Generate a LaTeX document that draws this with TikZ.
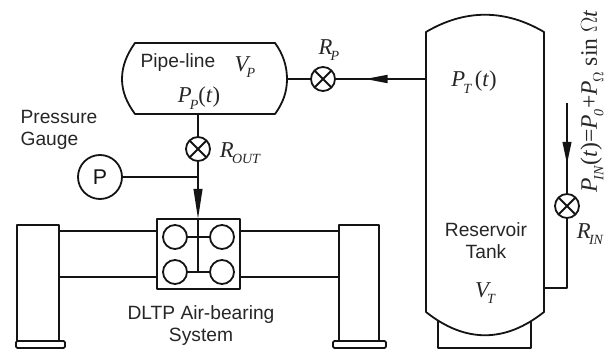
\documentclass[tikz,border=0pt]{standalone}
\usepackage{fontspec}
\setmainfont{Liberation Sans}
\newfontfamily\tms{Liberation Serif}
\usetikzlibrary{arrows.meta,calc}
\newcommand{\sym}[2]{{\tms\itshape #1\kern-0.08em\raisebox{-0.28em}{\fontsize{10.5}{11}\selectfont #2}}}
\tikzset{
  ln/.style={line width=1.35pt,line join=round,color=black!92},
  lbl/.style={font=\fontsize{14.4}{16.5}\selectfont,align=center,inner sep=0pt,text=black!85},
  mlbl/.style={font=\fontsize{17}{18}\selectfont,inner sep=0pt,text=black!85},
  valve/.style={circle,draw,ln,minimum size=18pt,inner sep=0pt,path picture={
    \draw[ln] (path picture bounding box.north west)--(path picture bounding box.south east)
      (path picture bounding box.north east)--(path picture bounding box.south west);}},
  disc/.style={circle,draw,ln,minimum size=18pt,inner sep=0pt}
}
\begin{document}
\begin{tikzpicture}[x=0.75pt,y=-0.75pt]
\useasboundingbox (0,0) rectangle (607,352);
% pipe-line vessel
\draw[ln] (135,43) -- (275,43) .. controls (283,54) and (287,66) .. (287,79) .. controls (287,92) and (283,103) .. (275,114) -- (135,114) .. controls (127,103) and (122,92) .. (122,79) .. controls (122,66) and (127,54) .. (135,43) -- cycle;
\coordinate (pipeR) at (287,79);
\coordinate (pipeB) at (198,114);
% tank
\draw[ln] (426,32) .. controls (465,9) and (505,9) .. (544,32) -- (544,312) .. controls (505,343) and (465,343) .. (426,312) -- cycle;
\coordinate (tankL) at (426,79);
\coordinate (tankR) at (544,288);
\draw[ln] (438,321) -- (438,348) -- (531,348) -- (531,321);
% valves
\node[valve] (rp) at (323,79) {};
\node[valve] (rout) at (198,149) {};
\node[valve] (rin) at (567,206) {};
% gauge
\node[circle,draw,ln,minimum size=33pt,inner sep=0pt,font=\fontsize{16}{18}\selectfont] (gauge) at (100,177) {P};
% bearing box
\node[draw,ln,minimum width=62.25pt,minimum height=52.5pt,inner sep=0pt] (box) at (198.5,254) {};
\node[disc] (c1) at (175,237) {};
\node[disc] (c2) at (222,237) {};
\node[disc] (c3) at (175,272) {};
\node[disc] (c4) at (222,272) {};
\coordinate (j) at (198,177);
\coordinate (boxT) at (198,219);
\coordinate (m2) at (198,272);
\draw[ln] (c1) -- (c2);
\draw[ln] (c3) -- (c4);
\draw[ln] (boxT) -- (m2);
% connectors
\draw[ln] (pipeR) -- (rp);
\draw[ln] (tankL) -- (rp);
\draw[ln,-{Triangle[length=17pt,width=6pt]}] (tankL) -- (365,79);
\draw[ln] (pipeB) -- (rout);
\draw[ln] (rout) -- (j);
\draw[ln] (gauge) -- (j);
\draw[ln,-{Triangle[length=22.5pt,width=6.5pt]}] (j) -- (boxT);
\coordinate (inT) at (567,103);
\coordinate (inC) at (567,288);
\draw[ln,-{Triangle[length=16.5pt,width=6.5pt]}] (inT) -- (567,164);
\draw[ln] (inT) -- (rin);
\draw[ln] (rin) -- (inC) -- (tankR);
% supports
\draw[ln] (59,341) -- (59,225) -- (17,225) -- (17,341);
\draw[ln] (379,341) -- (379,225) -- (339,225) -- (339,341);
\draw[ln,rounded corners=1pt] (16,341) rectangle (65,348);
\draw[ln,rounded corners=1pt] (333,341) rectangle (386,348);
\coordinate (lA) at (59,231);
\coordinate (lB) at (59,277);
\coordinate (rA) at (339,231);
\coordinate (rB) at (339,277);
\draw[ln] (lA) -- (lA -| box.west);
\draw[ln] (lB) -- (lB -| box.west);
\draw[ln] (rA) -- (rA -| box.east);
\draw[ln] (rB) -- (rB -| box.east);
% labels
\node[lbl] (t1) at (178,63) {Pipe-line};
\node[mlbl] (t2) at (245,67) {\sym{V}{P}};
\node[mlbl] (t3) at (199,98) {\sym{P}{P}{\tms(\textit{t})}};
\node[lbl,align=left] (t4) at (59,130) {Pressure\\Gauge};
\node[mlbl] (t5) at (240,153) {\sym{R}{OUT}};
\node[mlbl] (t6) at (329,50) {\sym{R}{P}};
\node[mlbl] (t7) at (474,82) {\sym{P}{T}\,{\tms(\textit{t})}};
\node[lbl] (t8) at (486,241) {Reservoir\\Tank};
\node[mlbl] (t9) at (485,293) {\sym{V}{T}};
\node[mlbl] (t10) at (590,234) {\sym{R}{IN}};
\node[lbl] (t11) at (201,326) {DLTP Air-bearing\\System};
\node[inner sep=0pt,text=black!85,font=\fontsize{17.7}{18}\selectfont,rotate=90] (t12) at (592,101.5) {\sym{P}{IN}\kern0.05em{\tms(\textit{t})=}\sym{P}{0}\kern0.05em{\tms+}\sym{P}{\(\Omega\)}{\tms\ sin \(\Omega\)\textit{t}}};
\end{tikzpicture}
\end{document}
